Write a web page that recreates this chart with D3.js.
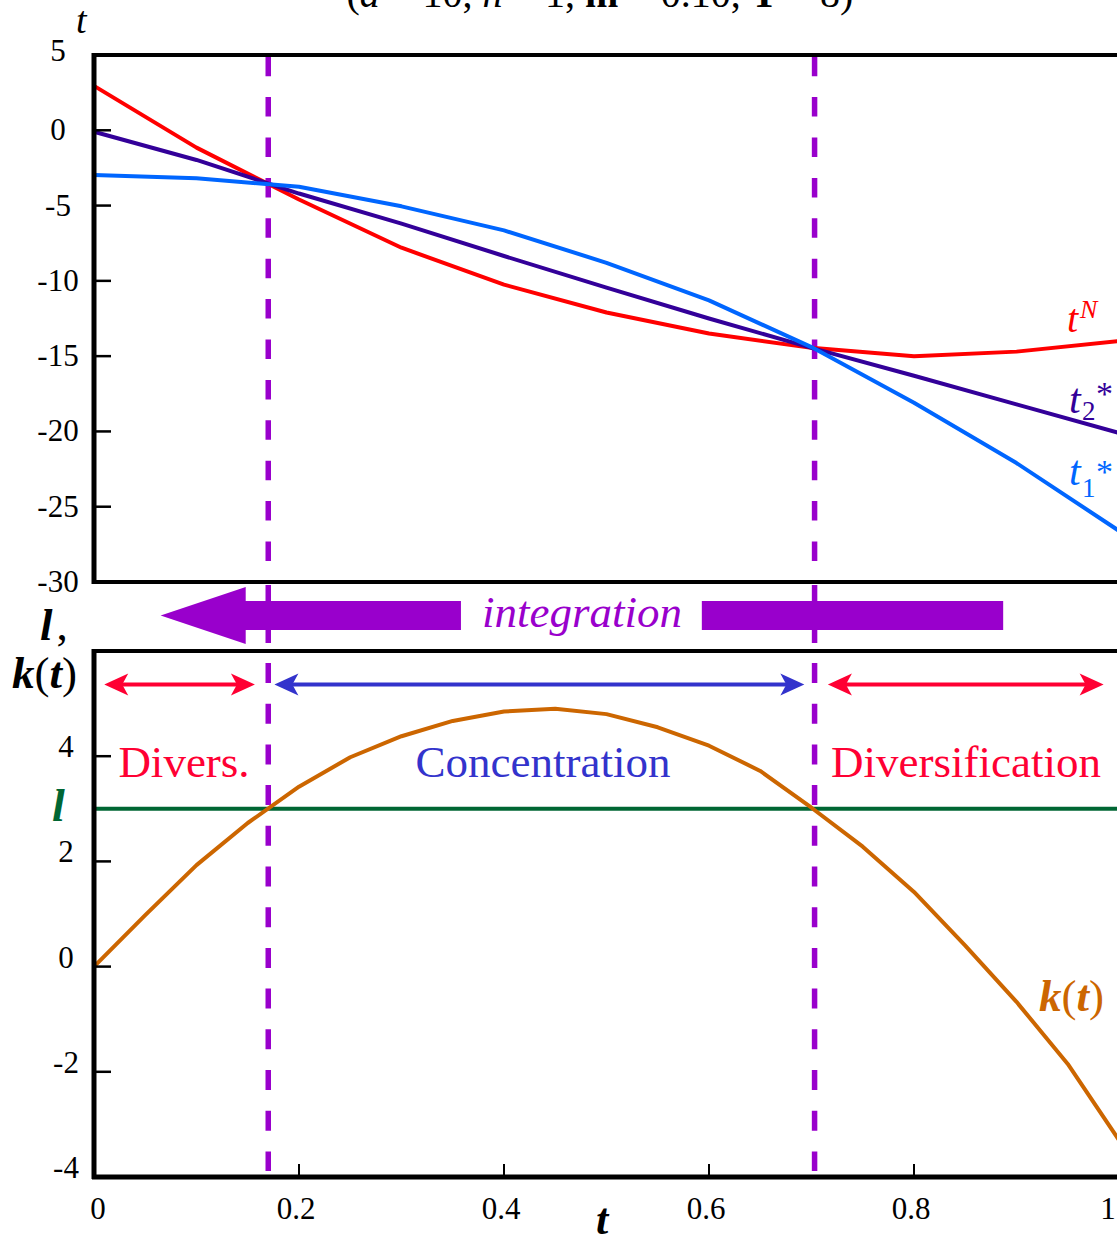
<!DOCTYPE html>
<html>
<head>
<meta charset="utf-8">
<script src="https://cdn.jsdelivr.net/npm/d3@7"></script>
<style>
  body { margin: 0; background: #fff; }
  svg { display: block; }
  text { font-family: "Liberation Serif", "DejaVu Serif", serif; }
</style>
</head>
<body>
<div id="chart"></div>
<script>
//data
var tGrid = [0, 0.1, 0.2, 0.3, 0.4, 0.5, 0.6, 0.7, 0.8, 0.9, 1.0];
var tNash = [2.95, -1.15, -4.6, -7.8, -10.25, -12.1, -13.5, -14.45, -15.0, -14.7, -14.0];
var tStar2 = [-0.1, -1.97, -4.2, -6.2, -8.35, -10.45, -12.5, -14.45, -16.3, -18.2, -20.1];
var tStar1 = [-2.97, -3.18, -3.75, -5.05, -6.65, -8.8, -11.3, -14.4, -18.1, -22.1, -26.6];

var kT = [0, 0.05, 0.1, 0.15, 0.2, 0.25, 0.3, 0.35, 0.4, 0.45, 0.5, 0.55, 0.6, 0.65, 0.7, 0.75, 0.8, 0.85, 0.9, 0.95, 1.0];
var kVal = [0, 0.98, 1.93, 2.73, 3.42, 3.98, 4.38, 4.67, 4.85, 4.9, 4.8, 4.55, 4.2, 3.72, 3.02, 2.28, 1.42, 0.4, -0.67, -1.85, -3.3];
var lambda = 3;

//switch points and regime spans (in t)
var switchT = [0.17, 0.703];
var spanStart = [0.01, 0.176, 0.716];
var spanEnd = [0.157, 0.693, 0.985];
var spanNames = ["Divers.", "Concentration", "Diversification"];

//tick values
var topTicks = [5, 0, -5, -10, -15, -20, -25, -30];
var bottomTicks = [-4, -2, 0, 2, 4];
var xTicks = [0, 0.2, 0.4, 0.6, 0.8, 1];

//svg size
var svgW = 1117;
var svgH = 1242;

var svg = d3.select("#chart").append("svg")
    .attr("width", svgW)
    .attr("height", svgH);

//scales
var x = d3.scaleLinear().domain([0, 1]).range([94, 1119]);
var yTop = d3.scaleLinear().domain([-30, 5]).range([582, 55]);
var yBot = d3.scaleLinear().domain([-4, 6]).range([1177, 651]);

var spanColors = ["#ff0033", "#3333cc", "#ff0033"];

//title (cut off at the top edge, as in the original)
var title = svg.append("text")
    .attr("x", 600)
    .attr("y", 7)
    .attr("text-anchor", "middle")
    .attr("font-size", "40px");
title.append("tspan").text("(");
title.append("tspan").attr("font-style", "italic").text("a");
title.append("tspan").text(" = 10, ");
title.append("tspan").attr("font-style", "italic").text("n");
title.append("tspan").text(" = 1, ");
title.append("tspan").attr("font-weight", "bold").text("m");
title.append("tspan").text(" = 0.10, ");
title.append("tspan").attr("font-weight", "bold").text("T");
title.append("tspan").text(" = 8)");

//dashed switch lines (drawn first, curves go over them)
switchT.forEach(function(s) {
    svg.append("line")
        .attr("x1", x(s)).attr("x2", x(s))
        .attr("y1", 56.7).attr("y2", 583)
        .attr("stroke", "#9900cc")
        .attr("stroke-width", 5.5)
        .attr("stroke-dasharray", "19.5,20.9");
    svg.append("line")
        .attr("x1", x(s)).attr("x2", x(s))
        .attr("y1", 585).attr("y2", 643)
        .attr("stroke", "#9900cc")
        .attr("stroke-width", 5.5);
    svg.append("line")
        .attr("x1", x(s)).attr("x2", x(s))
        .attr("y1", 663).attr("y2", 1171)
        .attr("stroke", "#9900cc")
        .attr("stroke-width", 5.5)
        .attr("stroke-dasharray", "20,20.7");
});

//top panel curves
var topLine = d3.line()
    .x(function(d, i) { return x(tGrid[i]); })
    .y(function(d) { return yTop(d); });

var topSeries = [
    { vals: tNash, color: "#ff0000" },
    { vals: tStar2, color: "#330099" },
    { vals: tStar1, color: "#0066ff" }
];
topSeries.forEach(function(s) {
    svg.append("path")
        .attr("d", topLine(s.vals))
        .attr("fill", "none")
        .attr("stroke", s.color)
        .attr("stroke-width", 4)
        .attr("stroke-linejoin", "round");
});

//top panel frame and ticks
svg.append("rect")
    .attr("x", x(0)).attr("y", yTop(5))
    .attr("width", x(1) - x(0)).attr("height", yTop(-30) - yTop(5))
    .attr("fill", "none")
    .attr("stroke", "#000")
    .attr("stroke-width", 4);
svg.append("line")
    .attr("x1", x(0)).attr("x2", x(0))
    .attr("y1", yTop(5) - 2).attr("y2", yTop(-30) + 2)
    .attr("stroke", "#000").attr("stroke-width", 5);

svg.selectAll(".topTick")
    .data(topTicks.filter(function(d) { return d > -30 && d < 5; }))
    .enter()
    .append("line")
    .attr("x1", x(0)).attr("x2", x(0) + 17)
    .attr("y1", function(d) { return yTop(d); })
    .attr("y2", function(d) { return yTop(d); })
    .attr("stroke", "#000").attr("stroke-width", 2.5);

svg.selectAll(".topLabel")
    .data(topTicks)
    .enter()
    .append("text")
    .attr("x", 58)
    .attr("y", function(d) { return d === 5 ? yTop(d) + 6 : yTop(d) + 10; })
    .attr("text-anchor", "middle")
    .attr("font-size", "31px")
    .text(function(d) { return d; });

svg.append("text")
    .attr("x", 76).attr("y", 33)
    .attr("font-size", "38px")
    .attr("font-style", "italic")
    .text("t");

//right-hand curve labels
var lab = svg.append("g").attr("font-style", "italic");
lab.append("text").attr("x", 1067).attr("y", 332).attr("font-size", "40px").attr("fill", "#ff0000").text("t");
lab.append("text").attr("x", 1080).attr("y", 318).attr("font-size", "26px").attr("fill", "#ff0000").text("N");
lab.append("text").attr("x", 1069).attr("y", 413).attr("font-size", "42px").attr("fill", "#330099").text("t");
lab.append("text").attr("x", 1082).attr("y", 420).attr("font-size", "27px").attr("font-style", "normal").attr("fill", "#330099").text("2");
lab.append("text").attr("x", 1096).attr("y", 405).attr("font-size", "34px").attr("font-style", "normal").attr("fill", "#330099").text("*");
lab.append("text").attr("x", 1069).attr("y", 485).attr("font-size", "42px").attr("fill", "#0066ff").text("t");
lab.append("text").attr("x", 1082).attr("y", 497).attr("font-size", "27px").attr("font-style", "normal").attr("fill", "#0066ff").text("1");
lab.append("text").attr("x", 1096).attr("y", 483).attr("font-size", "34px").attr("font-style", "normal").attr("fill", "#0066ff").text("*");

//big integration arrow in the gap
var ay = 615.5;
svg.append("polygon")
    .attr("points", [
        [x(0.065), ay],
        [x(0.148), ay - 28.5],
        [x(0.148), ay - 14.5],
        [x(0.358), ay - 14.5],
        [x(0.358), ay + 14.5],
        [x(0.148), ay + 14.5],
        [x(0.148), ay + 28.5]
    ].map(function(p) { return p.join(","); }).join(" "))
    .attr("fill", "#9900cc");
svg.append("rect")
    .attr("x", x(0.593)).attr("y", ay - 14.5)
    .attr("width", x(0.887) - x(0.593)).attr("height", 29)
    .attr("fill", "#9900cc");
svg.append("text")
    .attr("x", 582).attr("y", 627)
    .attr("text-anchor", "middle")
    .attr("font-size", "45px")
    .attr("font-style", "italic")
    .attr("fill", "#9900cc")
    .text("integration");

//bottom panel: lambda line and k(t)
svg.append("line")
    .attr("x1", x(0)).attr("x2", x(1))
    .attr("y1", yBot(lambda)).attr("y2", yBot(lambda))
    .attr("stroke", "#006633").attr("stroke-width", 4);

var kLine = d3.line()
    .x(function(d, i) { return x(kT[i]); })
    .y(function(d) { return yBot(d); });
svg.append("path")
    .attr("d", kLine(kVal))
    .attr("fill", "none")
    .attr("stroke", "#cc6600")
    .attr("stroke-width", 4)
    .attr("stroke-linejoin", "round");

//regime double arrows and names
var arrowY = 684.5;
var headL = 24, headW = 11;
spanStart.forEach(function(s, i) {
    var x0 = x(s), x1 = x(spanEnd[i]);
    var c = spanColors[i];
    svg.append("line")
        .attr("x1", x0 + 10).attr("x2", x1 - 10)
        .attr("y1", arrowY).attr("y2", arrowY)
        .attr("stroke", c).attr("stroke-width", 4);
    svg.append("polygon")
        .attr("points", [[x0, arrowY], [x0 + headL, arrowY - headW], [x0 + headL - 6, arrowY], [x0 + headL, arrowY + headW]]
            .map(function(p) { return p.join(","); }).join(" "))
        .attr("fill", c);
    svg.append("polygon")
        .attr("points", [[x1, arrowY], [x1 - headL, arrowY - headW], [x1 - headL + 6, arrowY], [x1 - headL, arrowY + headW]]
            .map(function(p) { return p.join(","); }).join(" "))
        .attr("fill", c);
});

var nameX = [184, 543, 966];
spanNames.forEach(function(n, i) {
    svg.append("text")
        .attr("x", nameX[i]).attr("y", 777)
        .attr("text-anchor", "middle")
        .attr("font-size", "45px")
        .attr("fill", spanColors[i])
        .text(n);
});

//bottom panel frame and ticks
svg.append("rect")
    .attr("x", x(0)).attr("y", yBot(6))
    .attr("width", x(1) - x(0)).attr("height", yBot(-4) - yBot(6))
    .attr("fill", "none")
    .attr("stroke", "#000")
    .attr("stroke-width", 4);
svg.append("line")
    .attr("x1", x(0)).attr("x2", x(0))
    .attr("y1", yBot(6) - 2).attr("y2", yBot(-4) + 2)
    .attr("stroke", "#000").attr("stroke-width", 5);
svg.append("line")
    .attr("x1", x(0) - 2).attr("x2", x(1))
    .attr("y1", yBot(-4)).attr("y2", yBot(-4))
    .attr("stroke", "#000").attr("stroke-width", 5);

svg.selectAll(".botTick")
    .data(bottomTicks.filter(function(d) { return d > -4; }))
    .enter()
    .append("line")
    .attr("x1", x(0)).attr("x2", x(0) + 17)
    .attr("y1", function(d) { return yBot(d); })
    .attr("y2", function(d) { return yBot(d); })
    .attr("stroke", "#000").attr("stroke-width", 2.5);

svg.selectAll(".botLabel")
    .data(bottomTicks)
    .enter()
    .append("text")
    .attr("x", 66)
    .attr("y", function(d) { return yBot(d) + 1; })
    .attr("text-anchor", "middle")
    .attr("font-size", "31px")
    .text(function(d) { return d; });

svg.selectAll(".xTick")
    .data(xTicks.filter(function(d) { return d > 0 && d < 1; }))
    .enter()
    .append("line")
    .attr("x1", function(d) { return x(d); })
    .attr("x2", function(d) { return x(d); })
    .attr("y1", yBot(-4)).attr("y2", yBot(-4) - 13)
    .attr("stroke", "#000").attr("stroke-width", 2);

svg.selectAll(".xLabel")
    .data(xTicks)
    .enter()
    .append("text")
    .attr("x", function(d) { return d === 0 ? x(d) + 4 : (d === 1 ? x(d) - 11 : x(d) - 3); })
    .attr("y", 1219)
    .attr("text-anchor", "middle")
    .attr("font-size", "31px")
    .text(function(d) { return d; });

//axis titles for bottom panel
svg.append("text")
    .attr("x", 602).attr("y", 1234)
    .attr("text-anchor", "middle")
    .attr("font-size", "44px")
    .attr("font-style", "italic")
    .attr("font-weight", "bold")
    .text("t");

var yt1 = svg.append("text")
    .attr("x", 40).attr("y", 640)
    .attr("font-size", "45px");
yt1.append("tspan").attr("font-style", "italic").attr("font-weight", "bold").text("l");
yt1.append("tspan").attr("dx", 4).text(",");

var yt2 = svg.append("text")
    .attr("x", 12).attr("y", 688)
    .attr("font-size", "45px");
yt2.append("tspan").attr("font-style", "italic").attr("font-weight", "bold").text("k");
yt2.append("tspan").text("(");
yt2.append("tspan").attr("font-style", "italic").attr("font-weight", "bold").text("t");
yt2.append("tspan").text(")");

svg.append("text")
    .attr("x", 52).attr("y", 821)
    .attr("font-size", "46px")
    .attr("font-style", "italic")
    .attr("font-weight", "bold")
    .attr("fill", "#006633")
    .text("l");

var kl = svg.append("text")
    .attr("x", 1039).attr("y", 1011)
    .attr("font-size", "45px")
    .attr("fill", "#cc6600");
kl.append("tspan").attr("font-style", "italic").attr("font-weight", "bold").text("k");
kl.append("tspan").text("(");
kl.append("tspan").attr("font-style", "italic").attr("font-weight", "bold").text("t");
kl.append("tspan").text(")");
</script>
</body>
</html>
